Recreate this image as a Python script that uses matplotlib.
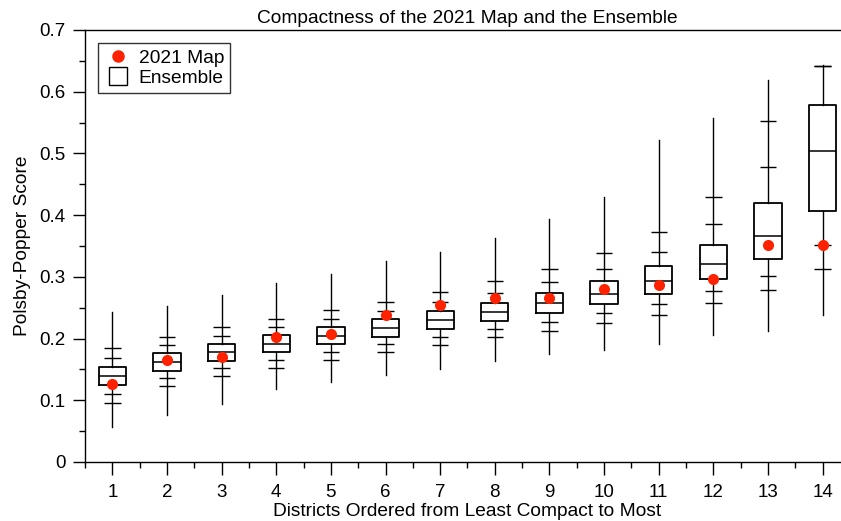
import matplotlib
matplotlib.use("Agg")
import matplotlib.pyplot as plt
from matplotlib.lines import Line2D
from matplotlib.ticker import MultipleLocator

plt.rcParams['font.family'] = ['Liberation Sans', 'DejaVu Sans']

# Ensemble distribution per district
districts = list(range(1, 15))
wmax = [0.243, 0.253, 0.270, 0.290, 0.304, 0.326, 0.340, 0.363, 0.394, 0.429, 0.521, 0.557, 0.619, 0.643]
hi2 = [0.185, 0.203, 0.218, 0.232, 0.246, 0.260, 0.276, 0.293, 0.313, 0.339, 0.373, 0.430, 0.553, 0.642]
hi1 = [0.169, 0.189, 0.204, 0.218, 0.231, 0.244, 0.259, 0.274, 0.292, 0.313, 0.341, 0.386, 0.478, 0.642]
q3 = [0.154, 0.176, 0.191, 0.205, 0.218, 0.231, 0.244, 0.258, 0.274, 0.293, 0.317, 0.352, 0.419, 0.579]
med = [0.139, 0.162, 0.178, 0.192, 0.204, 0.217, 0.230, 0.243, 0.257, 0.273, 0.294, 0.321, 0.367, 0.504]
q1 = [0.124, 0.147, 0.164, 0.178, 0.191, 0.203, 0.215, 0.228, 0.241, 0.256, 0.273, 0.296, 0.329, 0.407]
lo1 = [0.110, 0.136, 0.152, 0.166, 0.179, 0.191, 0.203, 0.215, 0.227, 0.241, 0.256, 0.277, 0.302, 0.351]
lo2 = [0.095, 0.123, 0.140, 0.153, 0.166, 0.178, 0.190, 0.202, 0.213, 0.226, 0.239, 0.257, 0.279, 0.313]
wmin = [0.056, 0.076, 0.094, 0.119, 0.130, 0.141, 0.150, 0.164, 0.175, 0.182, 0.192, 0.205, 0.213, 0.238]

# 2021 enacted map
map2021 = [0.126, 0.166, 0.170, 0.203, 0.207, 0.238, 0.254, 0.265, 0.266, 0.280, 0.286, 0.297, 0.351, 0.351]

red = '#ff2200'
fs = 13.8

fig = plt.figure(figsize=(8.41, 5.21), dpi=100)
ax = fig.add_axes([85/841, 59/521, 765/841, 432/521])

stats = []
for i in range(len(districts)):
    stats.append({'whislo': wmin[i], 'q1': q1[i], 'med': med[i], 'q3': q3[i], 'whishi': wmax[i]})

ax.bxp(stats, positions=districts, widths=0.5, showcaps=False, showfliers=False,
       boxprops=dict(color='black', linewidth=1.3),
       medianprops=dict(color='black', linewidth=1.1),
       whiskerprops=dict(color='black', linewidth=1.0),
       manage_ticks=False)

# percentile ticks on the whiskers
for vals in [hi2, hi1, lo1, lo2]:
    ax.hlines(vals, [d - 0.15 for d in districts], [d + 0.15 for d in districts],
              colors='black', linewidth=1.0)

ax.scatter(districts, map2021, s=64, color=red, zorder=5, linewidths=0)

ax.set_xlim(0.5, 14.5)
ax.set_ylim(0, 0.7)
ax.xaxis.set_minor_locator(MultipleLocator(0.5))
ax.yaxis.set_minor_locator(MultipleLocator(0.05))
ax.set_yticks([0, 0.1, 0.2, 0.3, 0.4, 0.5, 0.6, 0.7])
ax.set_yticklabels(['0', '0.1', '0.2', '0.3', '0.4', '0.5', '0.6', '0.7'])
ax.set_xticks(districts)
ax.set_xticklabels([str(d) for d in districts])
ax.tick_params(which='major', direction='out', length=9, width=1, labelsize=13.5, pad=5)
ax.tick_params(axis='x', which='major', pad=7)
ax.tick_params(which='minor', direction='out', length=4.5, width=1)
ax.spines['right'].set_visible(False)
for s in ['left', 'bottom', 'top']:
    ax.spines[s].set_linewidth(1.0)

ax.set_title('Compactness of the 2021 Map and the Ensemble', fontsize=fs, pad=5)
ax.set_xlabel('Districts Ordered from Least Compact to Most', fontsize=fs, labelpad=1)
ax.set_ylabel('Polsby-Popper Score', fontsize=fs, labelpad=6)

handles = [Line2D([], [], marker='o', linestyle='none', color=red, markersize=8),
           Line2D([], [], marker='s', linestyle='none', markerfacecolor='white',
                  markeredgecolor='black', markersize=12.5, markeredgewidth=1.0)]
leg = ax.legend(handles, ['2021 Map', 'Ensemble'], loc='upper left', fontsize=fs,
                frameon=True, fancybox=False, borderaxespad=0.7, handletextpad=0.4,
                labelspacing=0.15, borderpad=0.3, handlelength=1.4)
leg.get_frame().set_edgecolor('black')
leg.get_frame().set_linewidth(1.0)

fig.savefig('out.png', dpi=100)
